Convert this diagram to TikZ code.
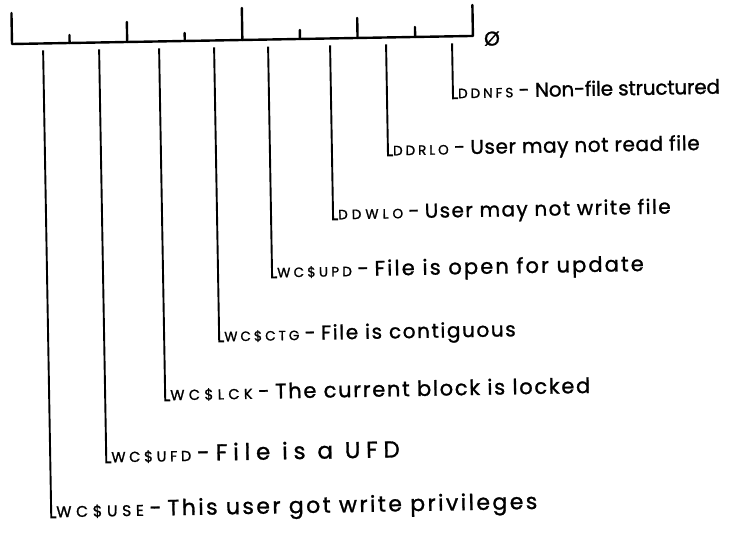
\documentclass[tikz,border=0pt]{standalone}
\usepackage{fontspec}
\setmainfont{Poppins}[FakeBold=1.2]
% prefix size, prefix letter spacing, prefix, text size, text letter spacing, text
\newcommand\lbl[6]{{\fontsize{#1}{#1}\selectfont\addfontfeatures{LetterSpace=#2}#3}%
  {\fontsize{#4}{#4}\selectfont\hspace*{2pt}\,-\ \addfontfeatures{LetterSpace=#5}#6}}
\begin{document}
\begin{tikzpicture}[x=1pt,y=-1pt,
  rul/.style={line width=2.4pt, line cap=round, line join=round},
  lead/.style={line width=1.9pt, line join=miter},
  lab/.style={anchor=base west, inner sep=0pt},
]
\fill[white] (0,0) rectangle (735,538);
\useasboundingbox (0,0) rectangle (735,538);
\begin{scope}[rotate around={1:(12,44)}, transform shape]
  % ruler
  \draw[rul] (12,13) -- (12,44) -- (473,44) -- (473,13);
  \draw[rul] (69.6,44) -- (69.6,36);
  \draw[rul] (127.2,44) -- (127.2,24);
  \draw[rul] (184.8,44) -- (184.8,36);
  \draw[rul] (242.4,44) -- (242.4,12);
  \draw[rul] (300,44) -- (300,35);
  \draw[rul] (357.6,44) -- (357.6,24);
  \draw[rul] (415.2,44) -- (415.2,34);
  \node[font=\fontsize{20}{20}\selectfont, inner sep=0pt] (zero) at (492,47) {Ø};
  % tops of leaders
  \coordinate (tnfs) at (452,51);
  \coordinate (trlo) at (386,51);
  \coordinate (twlo) at (330,51);
  \coordinate (tupd) at (268,51);
  \coordinate (tctg) at (214,51);
  \coordinate (tlck) at (159,51);
  \coordinate (tufd) at (99,51);
  \coordinate (tuse) at (43,51);
  % labels
  \node[lab] (nfs) at (457,106) {\lbl{13.5}{22}{DDNFS}{20}{-1}{Non-file structured}};
  \node[lab] (rlo) at (391,162) {\lbl{13.5}{22}{DDRLO}{20}{3}{User may not read file}};
  \node[lab] (wlo) at (335,225) {\lbl{13.5}{30}{DDWLO}{20}{7}{User may not write file}};
  \node[lab] (upd) at (273,282) {\lbl{13.5}{24}{WC\$UPD}{21}{10}{File is open for update}};
  \node[lab] (ctg) at (219,345) {\lbl{13.5}{22}{WC\$CTG}{20}{8}{File is contiguous}};
  \node[lab] (lck) at (164,403) {\lbl{14.5}{30}{WC\$LCK}{21}{8}{The current block is locked}};
  \node[lab] (ufd) at (104,464) {\lbl{14.5}{25}{WC\$UFD}{23}{25}{File is a UFD}};
  \node[lab] (use) at (48,518) {\lbl{15.5}{30}{WC\$USE}{22}{11}{This user got write privileges}};
  % leaders
  \draw[lead] (tnfs) |- (nfs.base west);
  \draw[lead] (trlo) |- (rlo.base west);
  \draw[lead] (twlo) |- (wlo.base west);
  \draw[lead] (tupd) |- (upd.base west);
  \draw[lead] (tctg) |- (ctg.base west);
  \draw[lead] (tlck) |- (lck.base west);
  \draw[lead] (tufd) |- (ufd.base west);
  \draw[lead] (tuse) |- (use.base west);
\end{scope}
\end{tikzpicture}
\end{document}
